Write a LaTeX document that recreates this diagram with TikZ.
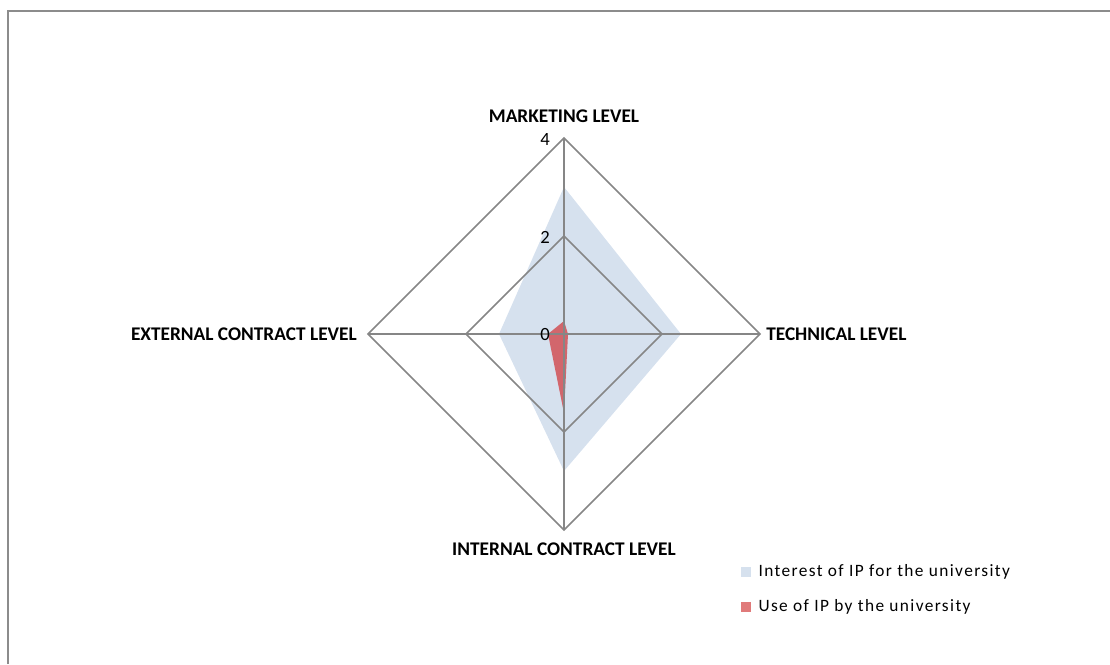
\documentclass[tikz,border=0pt]{standalone}
\usepackage{fontspec}
\setmainfont{Carlito}
\usetikzlibrary{positioning}
\definecolor{gridgray}{RGB}{134,134,134}
\definecolor{framegray}{RGB}{140,140,140}
\definecolor{ipblue}{RGB}{214,225,238}
\definecolor{ipred}{RGB}{210,102,108}
\definecolor{keyred}{RGB}{224,122,122}
\begin{document}
\begin{tikzpicture}[x=0.75pt,y=-0.75pt]
            \tikzset{grid/.style = {draw=gridgray, line width=1.1pt}}
            \tikzset{axislabel/.style = {font=\bfseries\fontsize{14.5}{16}\selectfont, inner sep=0pt}}
            \tikzset{ticklabel/.style = {font=\fontsize{14}{16}\selectfont, inner sep=0pt, anchor=east}}
            \tikzset{legendbox/.style = {minimum size=8pt, inner sep=0pt}}
            \tikzset{legendtext/.style = {font=\fontsize{13}{15}\selectfont\addfontfeature{LetterSpace=8}, inner sep=0pt, anchor=west}}

            \useasboundingbox (0,0) rectangle (1110,664);
            \draw[framegray, line width=1.5pt] (8,664) -- (8,11) -- (1110,11);

            % centre and axis ends (1 unit = 49px)
            \coordinate (c) at (564,334);
            \coordinate (mk4) at (564,138);
            \coordinate (tc4) at (760,334);
            \coordinate (ic4) at (564,530);
            \coordinate (ec4) at (368,334);
            \coordinate (mk2) at (564,236);
            \coordinate (tc2) at (662,334);
            \coordinate (ic2) at (564,432);
            \coordinate (ec2) at (466,334);

            % data series
            \fill[ipblue] (564,187) -- (681,334) -- (564,471) -- (499,334) -- cycle;
            \fill[ipred] (564,321) -- (568,334) -- (564,413) -- (548,334) -- cycle;

            % grid
            \draw[grid] (mk2) -- (tc2) -- (ic2) -- (ec2) -- cycle;
            \draw[grid] (mk4) -- (tc4) -- (ic4) -- (ec4) -- cycle;
            \foreach \p in {mk4,tc4,ic4,ec4}
                \draw[grid] (c) -- (\p);

            % axis labels
            \node[axislabel] (mklabel) at (564,116) {MARKETING LEVEL};
            \node[axislabel, anchor=west] (tclabel) at (766,334) {TECHNICAL LEVEL};
            \node[axislabel] (iclabel) at (564,549) {INTERNAL CONTRACT LEVEL};
            \node[axislabel, anchor=east] (eclabel) at (357,334) {EXTERNAL CONTRACT LEVEL};

            % scale
            \node[ticklabel] (t4) at (550,140) {4};
            \node[ticklabel] (t2) at (550,237) {2};
            \node[ticklabel] (t0) at (550,335) {0};

            % legend
            \node[legendbox, fill=ipblue] (keyint) at (746,572) {};
            \node[legendtext, right=5pt of keyint] (keyinttext) {Interest of IP for the university};
            \node[legendbox, fill=keyred] (keyuse) at (746,607) {};
            \node[legendtext, right=5pt of keyuse] (keyusetext) {Use of IP by the university};

        \end{tikzpicture}
\end{document}
